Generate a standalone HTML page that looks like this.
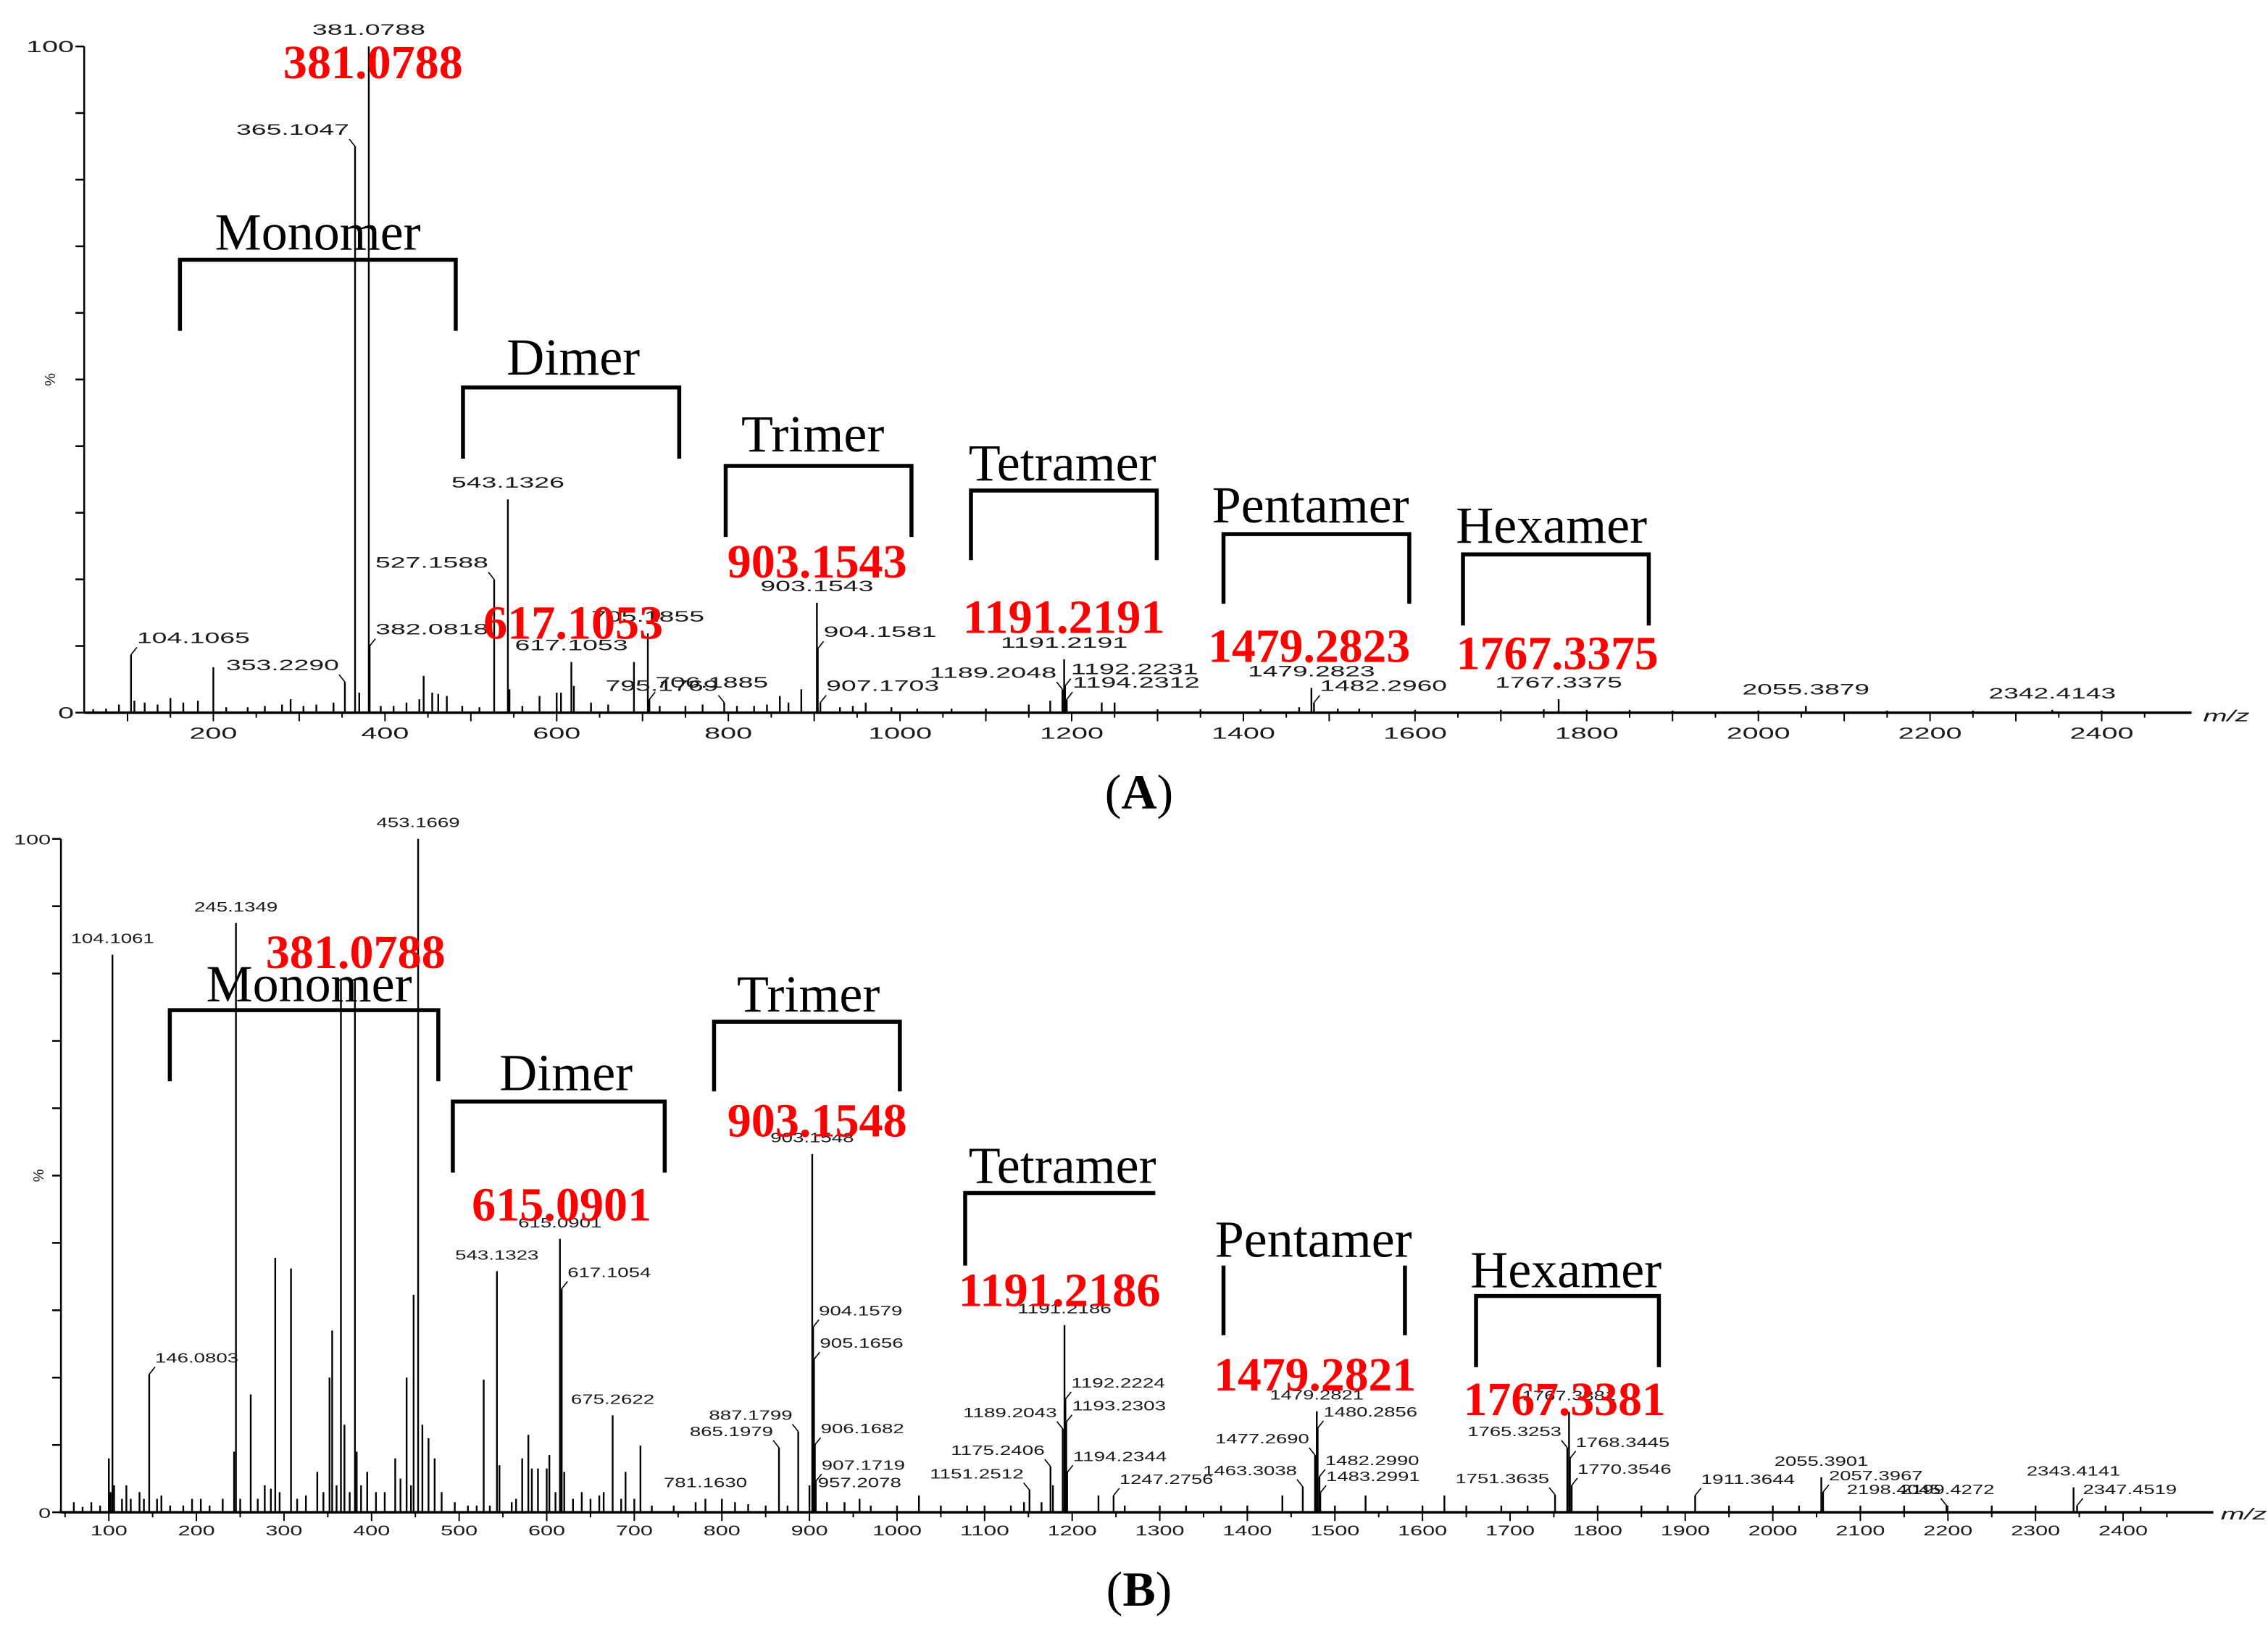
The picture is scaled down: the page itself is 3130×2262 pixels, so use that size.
<!DOCTYPE html>
<html><head><meta charset="utf-8"><title>MS spectra oligomers</title>
<style>
html,body{margin:0;padding:0;background:#fff;}
svg{display:block;}
.sm{font-family:"Liberation Sans",sans-serif;fill:#1a1a1a;}
.red{font-family:"Liberation Serif",serif;font-weight:bold;fill:#ff0000;}
.br{font-family:"Liberation Serif",serif;fill:#000;}
</style></head>
<body>
<svg id="chart" xmlns="http://www.w3.org/2000/svg" width="3130" height="2262" viewBox="0 0 3130 2262">
<rect x="0" y="0" width="3130" height="2262" fill="#fff"/>
<text x="1572" y="1116" text-anchor="middle" font-family="Liberation Serif, serif" font-size="68">(<tspan font-weight="bold">A</tspan>)</text>
<text x="1572" y="2216" text-anchor="middle" font-family="Liberation Serif, serif" font-size="68">(<tspan font-weight="bold">B</tspan>)</text>
</svg>
<script>
// ---------- Panel A data ----------
const aPeaks = [[60,0.5],[75,0.6],[90,1.2],[104.1065,8.7],[108,1.8],[120,1.5],[135,1.2],[150,2.2],[165,1.5],[182,1.8],[200,6.8],[215,0.8],[240,0.8],[260,1],[280,1.2],[290,2],[305,1],[320,1.2],[340,1.5],[353.229,4.6],[365.1047,85],[370,3],[381.0788,100],[382.0818,10],[395,1],[410,1],[425,1.5],[440,2],[445,5.5],[455,3],[462,2.8],[472,2.5],[490,1],[510,0.8],[527.1588,20],[543.1326,32],[545,3.5],[560,1],[580,2.5],[600,3],[605,3],[617.1053,7.6],[620,4],[640,1.5],[660,1.2],[690,7.6],[706.1885,11.9],[708,2],[720,1],[750,1],[770,1.2],[795.1769,1.5],[810,1],[830,1],[845,1.2],[860,2.5],[870,1.5],[885,3.5],[903.1543,16.5],[904.1581,9.6],[907.1703,1.5],[930,0.8],[945,1],[960,1.5],[990,0.8],[1020,0.6],[1060,0.6],[1100,0.6],[1150,1.2],[1175,1.8],[1189.2048,3.5],[1191.2191,8],[1192.2231,4],[1194.2312,2],[1235,1.5],[1250,1.5],[1300,0.5],[1350,0.5],[1420,0.5],[1465,0.8],[1479.2823,3.7],[1482.296,1.5],[1510,0.6],[1535,0.6],[1600,0.4],[1700,0.4],[1750,0.5],[1767.3375,2],[1800,0.4],[1850,0.4],[1900,0.3],[2000,0.3],[2055.3879,1],[2150,0.3],[2250,0.3],[2342.4143,0.4],[2400,0.3]];
const aLabels = [[104.1065,'104.1065','r'],[353.229,'353.2290','l'],[365.1047,'365.1047','l'],[381.0788,'381.0788','c'],[382.0818,'382.0818','r'],[527.1588,'527.1588','l'],[543.1326,'543.1326','c'],[617.1053,'617.1053','c'],[706.1885,'705.1855','c'],[708,'706.1885','r'],[795.1769,'795.1769','l'],[903.1543,'903.1543','c'],[904.1581,'904.1581','r'],[907.1703,'907.1703','r'],[1189.2048,'1189.2048','l'],[1191.2191,'1191.2191','c'],[1192.2231,'1192.2231','r'],[1194.2312,'1194.2312','r'],[1479.2823,'1479.2823','c'],[1482.296,'1482.2960','r'],[1767.3375,'1767.3375','c'],[2055.3879,'2055.3879','c'],[2342.4143,'2342.4143','c']];
const aRedText = ['381.0788','617.1053','903.1543','1191.2191','1479.2823','1767.3375'];
const aOligomers = ['Monomer','Dimer','Trimer','Tetramer','Pentamer','Hexamer'];

// ---------- Panel B data ----------
const bPeaks = [[45,0.5],[60,1.5],[70,0.8],[80,1.5],[90,1],[100,8],[102,3],[104.1061,82.8],[106,4],[115,2],[120,4],[125,2],[135,3],[140,2],[146.0803,20.5],[155,2],[160,2.5],[170,1],[185,1],[195,2],[205,2],[215,1],[230,2],[243,9],[245.1349,87.5],[250,2],[262,17.5],[270,2],[278,4],[285,3.5],[290,37.8],[295,3],[308,36.2],[315,2],[325,2.5],[338,6],[345,3],[352,20],[355,27],[360,4],[365,79],[369,13],[375,3],[381,79],[383,9],[388,4],[395,6],[405,3],[415,3],[427,8],[433,5],[440,20],[445,4],[448,32.3],[453.1669,100],[458,13],[465,11],[472,8],[480,3],[495,1.5],[510,1],[520,1],[528,19.7],[535,1],[543.1323,35.8],[546,7],[560,1.5],[565,2],[572,8],[579,11.5],[583,6.5],[590,6.5],[600,6.5],[603,8.5],[610,3],[615.0901,40.6],[617.1054,33.2],[620,6],[630,2],[640,3],[650,2],[660,2.5],[665,3],[675.2622,14.4],[685,2],[690,6],[700,2],[707,9.9],[720,1],[745,1],[770,1.5],[781.163,2],[800,2],[815,1.5],[830,1.2],[850,1],[865.1979,9.6],[875,1],[887.1799,12],[900,4],[903.1548,53.2],[904.1579,27.5],[905.1656,22.7],[906.1682,10],[907.1719,4.6],[920,1.5],[940,1.5],[957.2078,2],[970,1],[1000,1],[1025,2.5],[1050,1],[1080,1],[1100,1],[1130,1],[1145,1.5],[1151.2512,3.3],[1165,1.5],[1175.2406,6.8],[1178,4],[1189.2043,12.4],[1191.2186,27.8],[1192.2224,16.8],[1193.2303,13.4],[1194.2344,5.9],[1230,2.5],[1247.2756,2.5],[1260,1],[1300,1],[1330,1],[1370,1],[1400,1],[1440,2.5],[1463.3038,3.8],[1477.269,8.5],[1479.2821,15],[1480.2856,12.5],[1482.299,5.3],[1483.2991,2.9],[1500,1],[1535,2.5],[1560,1],[1600,1],[1625,2.5],[1650,1],[1690,1],[1720,1],[1751.3635,2.6],[1765.3253,9.6],[1767.3381,14.9],[1768.3445,8],[1770.3546,4],[1800,1],[1850,1],[1880,1],[1911.3644,2.5],[1950,1],[2000,1],[2030,1],[2055.3901,5.2],[2057.3967,3],[2100,1],[2150,1],[2198.4045,1],[2199.4272,1],[2250,1],[2300,1],[2343.4141,3.7],[2347.4519,1],[2380,1],[2420,0.8]];
const bLabels = [[104.1061,'104.1061','c'],[146.0803,'146.0803','r'],[245.1349,'245.1349','c'],[453.1669,'453.1669','c'],[543.1323,'543.1323','c'],[615.0901,'615.0901','c'],[617.1054,'617.1054','r'],[675.2622,'675.2622','c'],[781.163,'781.1630','c'],[865.1979,'865.1979','l'],[887.1799,'887.1799','l'],[903.1548,'903.1548','c'],[904.1579,'904.1579','r'],[905.1656,'905.1656','r'],[906.1682,'906.1682','r'],[907.1719,'907.1719','r'],[957.2078,'957.2078','c'],[1151.2512,'1151.2512','l'],[1175.2406,'1175.2406','l'],[1189.2043,'1189.2043','l'],[1191.2186,'1191.2186','c'],[1192.2224,'1192.2224','r'],[1193.2303,'1193.2303','r'],[1194.2344,'1194.2344','r'],[1247.2756,'1247.2756','r'],[1463.3038,'1463.3038','l'],[1477.269,'1477.2690','l'],[1479.2821,'1479.2821','c'],[1480.2856,'1480.2856','r'],[1482.299,'1482.2990','r'],[1483.2991,'1483.2991','r'],[1751.3635,'1751.3635','l'],[1765.3253,'1765.3253','l'],[1767.3381,'1767.3381','c'],[1768.3445,'1768.3445','r'],[1770.3546,'1770.3546','r'],[1911.3644,'1911.3644','r'],[2055.3901,'2055.3901','c'],[2057.3967,'2057.3967','r'],[2198.4045,'2198.4045','l'],[2199.4272,'2199.4272','c'],[2343.4141,'2343.4141','c'],[2347.4519,'2347.4519','r']];
const bRedText = ['381.0788','615.0901','903.1548','1191.2186','1479.2821','1767.3381'];
const bOligomers = ['Monomer','Dimer','Trimer','Tetramer','Pentamer','Hexamer'];

// ---------- layout (display units, scaled by S) ----------
const S = 2.003;
const NS = 'http://www.w3.org/2000/svg';
const svg = document.getElementById('chart');
const layoutA = {x0:147,m0:200,k:0.5914,y0:491,y100:32,ax:58,xend:1510,mMin:60,mMax:2480,labStep:200,labStart:200,xlabY:509,pctX:38,mzX:1518,mzY:497,smChar:19.5,smFont:21,tickChar:22,tickFont:22};
const layoutB = {x0:75,m0:100,k:0.6034,y0:1042,y100:578,ax:42,xend:1525,mMin:50,mMax:2480,labStep:100,labStart:100,xlabY:1058,pctX:30,mzX:1530,mzY:1047,smChar:14.4,smFont:18,tickChar:17,tickFont:19};
const redPosA = [[257,54],[395,440],[563,398],[733,436],[902,456],[1073,461]];
const redPosB = [[245,667],[387,841],[563,783],[730,900],[906,958],[1078,975]];
// bracket geometry: left,right,top,bottom,textCx,textBaseline,type
const brA = [[124,314,179,228,219,172,'full'],[319,468,267,316,395,258,'full'],[500,628,321,370,560,311,'full'],[669,797,338,386,732,331,'full'],[843,971,368,416,903,360,'full'],[1008,1136,382,431,1069,374,'full']];
const brB = [[117,302,696,745,213,690,'full'],[312,458,759,808,390,751,'full'],[492,620,704,752,557,697,'full'],[665,796,822,872,732,815,'left'],[843,968,872,920,905,866,'sides'],[1017,1143,893,942,1079,887,'full']];

function setA(el, attrs){ for (const k in attrs) el.setAttribute(k, attrs[k]); }

function drawPanel(P, peaks, labels, redText, redPos, names, br, pfx){
  const X = m => (P.x0 + (m - P.m0) * P.k) * S;
  const Y = v => (P.y0 - (P.y0 - P.y100) * v / 100) * S;
  const g = document.createElementNS(NS, 'g');
  
  
  svg.appendChild(g);

  // axes
  const yax = document.createElementNS(NS, 'line');
  
  
  setA(yax, {x1:P.ax*S, x2:P.ax*S, y1:Y(100), y2:Y(0), stroke:'#000', 'stroke-width':2.5});
  g.appendChild(yax);
  const xax = document.createElementNS(NS, 'line');
  
  
  setA(xax, {x1:P.ax*S, x2:P.xend*S, y1:Y(0), y2:Y(0), stroke:'#000', 'stroke-width':3.5});
  g.appendChild(xax);

  for (let v = 0; v <= 100; v += 10) {
    const t = document.createElementNS(NS, 'line');
    
    
    setA(t, {x1:P.ax*S-12, x2:P.ax*S, y1:Y(v), y2:Y(v), stroke:'#000', 'stroke-width':2.5});
    g.appendChild(t);
  }
  [0, 100].forEach(v => {
    const t = document.createElementNS(NS, 'text');
    
    
    const s = String(v);
    setA(t, {x:P.ax*S-14, y:Y(v)+8, 'text-anchor':'end', class:'sm', 'font-size':P.tickFont, textLength:s.length*P.tickChar, lengthAdjust:'spacingAndGlyphs'});
    t.textContent = s;
    g.appendChild(t);
  });
  const pct = document.createElementNS(NS, 'text');
  
  
  setA(pct, {x:P.pctX*S, y:Y(50), 'text-anchor':'middle', class:'sm', 'font-size':20, transform:`rotate(-90 ${P.pctX*S} ${Y(50)})`});
  pct.textContent = '%';
  g.appendChild(pct);

  for (let m = Math.ceil(P.mMin/50)*50; m <= P.mMax; m += 50) {
    const t = document.createElementNS(NS, 'line');
    
    
    const len = (m % 100 === 0) ? 12 : 7;
    setA(t, {x1:X(m), x2:X(m), y1:Y(0), y2:Y(0)+len, stroke:'#000', 'stroke-width':2});
    g.appendChild(t);
  }
  for (let m = P.labStart; m <= 2400; m += P.labStep) {
    const t = document.createElementNS(NS, 'text');
    
    
    const s = String(m);
    setA(t, {x:X(m), y:P.xlabY*S, 'text-anchor':'middle', class:'sm', 'font-size':P.tickFont, textLength:s.length*P.tickChar, lengthAdjust:'spacingAndGlyphs'});
    t.textContent = s;
    g.appendChild(t);
  }
  const mz = document.createElementNS(NS, 'text');
  
  
  setA(mz, {x:P.mzX*S, y:P.mzY*S, class:'sm', 'font-size':22, textLength:64, lengthAdjust:'spacingAndGlyphs', 'font-style':'italic'});
  mz.textContent = 'm/z';
  g.appendChild(mz);

  // peaks
  peaks.forEach(p => {
    const l = document.createElementNS(NS, 'line');
    
    
    setA(l, {x1:X(p[0]), x2:X(p[0]), y1:Y(0), y2:Y(p[1]), stroke:'#000', 'stroke-width':2.4});
    g.appendChild(l);
  });

  // peak labels
  labels.forEach(lb => {
    const pk = peaks.find(p => p[0] === lb[0]);
    const px = X(pk[0]), top = Y(pk[1]);
    const base = top - 8*S;
    const t = document.createElementNS(NS, 'text');
    
    
    let tx = px, anchor = 'middle';
    if (lb[2] === 'l') { tx = px - 4*S; anchor = 'end'; }
    if (lb[2] === 'r') { tx = px + 4*S; anchor = 'start'; }
    setA(t, {x:tx, y:base, 'text-anchor':anchor, class:'sm', 'font-size':P.smFont, textLength:lb[1].length*P.smChar, lengthAdjust:'spacingAndGlyphs'});
    t.textContent = lb[1];
    g.appendChild(t);
    if (lb[2] !== 'c') {
      const ld = document.createElementNS(NS, 'line');
      
      
      const dir = lb[2] === 'l' ? -1 : 1;
      setA(ld, {x1:px, y1:top, x2:px + dir*4*S, y2:top - 5*S, stroke:'#000', 'stroke-width':1.6});
      g.appendChild(ld);
    }
  });

  // brackets
  br.forEach((b, i) => {
    const p = document.createElementNS(NS, 'path');
    
    
    const L = b[0]*S, R = b[1]*S, T = b[2]*S, B = b[3]*S;
    let d = `M${L},${B} V${T} H${R} V${B}`;
    if (b[6] === 'left') d = `M${L},${B} V${T} H${R}`;
    if (b[6] === 'sides') d = `M${L},${T} V${B} M${R},${T} V${B}`;
    setA(p, {d:d, fill:'none', stroke:'#000', 'stroke-width':5.5});
    g.appendChild(p);
    const t = document.createElementNS(NS, 'text');
    
    
    setA(t, {x:b[4]*S, y:b[5]*S, 'text-anchor':'middle', class:'br', 'font-size':72});
    t.textContent = names[i];
    g.appendChild(t);
  });

  // red highlight labels
  redText.forEach((s, i) => {
    const t = document.createElementNS(NS, 'text');
    
    
    setA(t, {x:redPos[i][0]*S, y:redPos[i][1]*S, 'text-anchor':'middle', class:'red', 'font-size':66, textLength:s.length*31, lengthAdjust:'spacingAndGlyphs'});
    t.textContent = s;
    g.appendChild(t);
  });
}

drawPanel(layoutA, aPeaks, aLabels, aRedText, redPosA, aOligomers, brA, 'a');
drawPanel(layoutB, bPeaks, bLabels, bRedText, redPosB, bOligomers, brB, 'b');
</script>
</body></html>
